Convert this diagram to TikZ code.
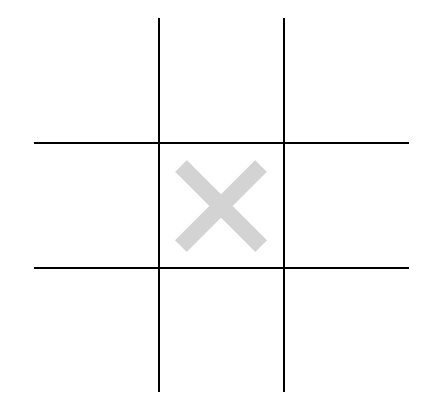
\documentclass[tikz,border=0pt]{standalone}
\usetikzlibrary{positioning}
\definecolor{crossgray}{RGB}{211,211,211}

\begin{document}
\begin{tikzpicture}[x=1pt,y=-1pt]
\tikzstyle{gridline}=[line width=2pt,black]
\tikzstyle{crossline}=[line width=16.5pt,crossgray]
\useasboundingbox (0,0) rectangle (432,416);
% the X in the middle cell
\coordinate (tl) at (181,166);
\coordinate (tr) at (261,166);
\coordinate (bl) at (181,246);
\coordinate (br) at (261,246);
\draw[crossline] (tl) -- (br);
\draw[crossline] (tr) -- (bl);
% grid
\foreach \x [count=\i] in {159,284} {
  \coordinate (v\i top) at (\x,18);
  \coordinate (v\i bot) at (\x,392);
  \draw[gridline] (v\i top) -- (v\i bot);
}
\foreach \y [count=\i] in {143,268} {
  \coordinate (h\i left) at (34,\y);
  \coordinate (h\i right) at (409,\y);
  \draw[gridline] (h\i left) -- (h\i right);
}
\end{tikzpicture}
\end{document}
